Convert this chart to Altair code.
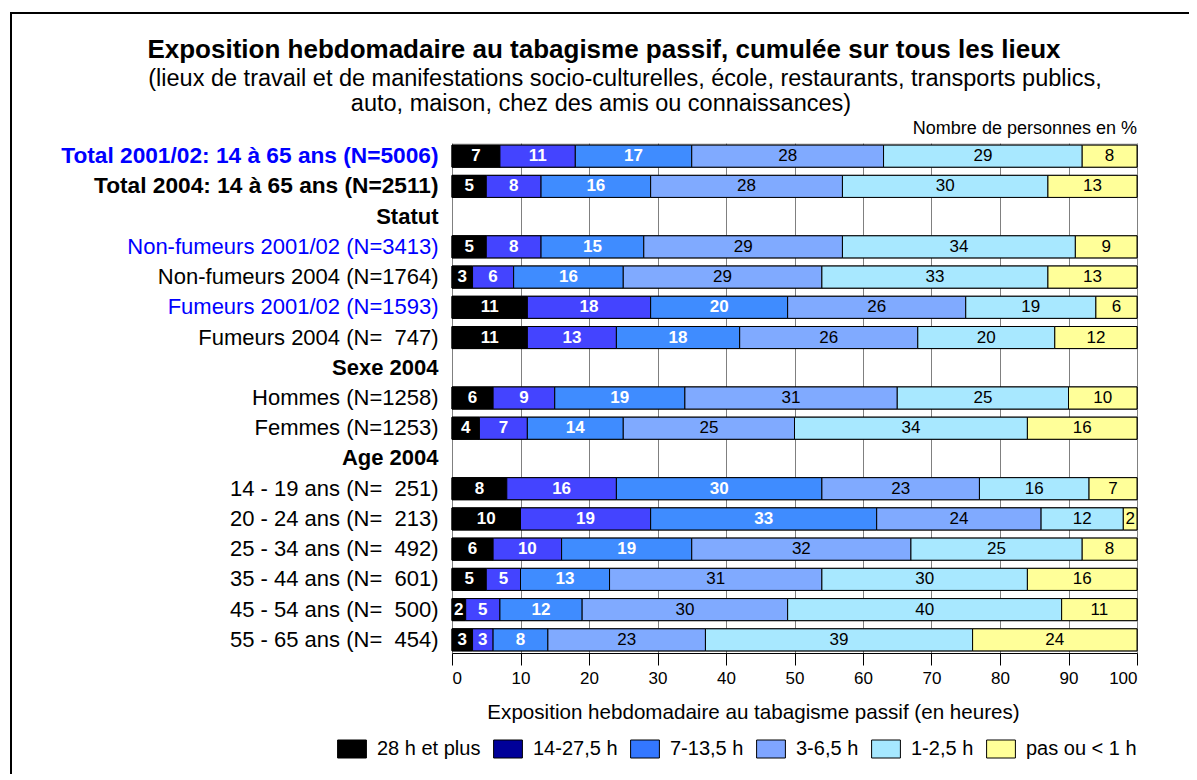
import altair as alt
import pandas as pd

rows = [
    "Total 2001/02: 14 à 65 ans (N=5006)",
    "Total 2004: 14 à 65 ans (N=2511)",
    "Statut",
    "Non-fumeurs 2001/02 (N=3413)",
    "Non-fumeurs 2004 (N=1764)",
    "Fumeurs 2001/02 (N=1593)",
    "Fumeurs 2004 (N=\u00a0\u00a0747)",
    "Sexe 2004",
    "Hommes (N=1258)",
    "Femmes (N=1253)",
    "Age 2004",
    "14 - 19 ans (N=\u00a0\u00a0251)",
    "20 - 24 ans (N=\u00a0\u00a0213)",
    "25 - 34 ans (N=\u00a0\u00a0492)",
    "35 - 44 ans (N=\u00a0\u00a0601)",
    "45 - 54 ans (N=\u00a0\u00a0500)",
    "55 - 65 ans (N=\u00a0\u00a0454)",
]

categories = ["28 h et plus", "14-27,5 h", "7-13,5 h", "3-6,5 h", "1-2,5 h", "pas ou < 1 h"]

v_total_0102 = [7, 11, 17, 28, 29, 8]
v_total_2004 = [5, 8, 16, 28, 30, 13]
v_nf_0102 = [5, 8, 15, 29, 34, 9]
v_nf_2004 = [3, 6, 16, 29, 33, 13]
v_f_0102 = [11, 18, 20, 26, 19, 6]
v_f_2004 = [11, 13, 18, 26, 20, 12]
v_hommes = [6, 9, 19, 31, 25, 10]
v_femmes = [4, 7, 14, 25, 34, 16]
v_14_19 = [8, 16, 30, 23, 16, 7]
v_20_24 = [10, 19, 33, 24, 12, 2]
v_25_34 = [6, 10, 19, 32, 25, 8]
v_35_44 = [5, 5, 13, 31, 30, 16]
v_45_54 = [2, 5, 12, 30, 40, 11]
v_55_65 = [3, 3, 8, 23, 39, 24]

series = {
    rows[0]: v_total_0102,
    rows[1]: v_total_2004,
    rows[3]: v_nf_0102,
    rows[4]: v_nf_2004,
    rows[5]: v_f_0102,
    rows[6]: v_f_2004,
    rows[8]: v_hommes,
    rows[9]: v_femmes,
    rows[11]: v_14_19,
    rows[12]: v_20_24,
    rows[13]: v_25_34,
    rows[14]: v_35_44,
    rows[15]: v_45_54,
    rows[16]: v_55_65,
}

title_lines = [
    "Exposition hebdomadaire au tabagisme passif, cumulée sur tous les lieux",
    "(lieux de travail et de manifestations socio-culturelles, école, restaurants, transports publics,",
    "auto, maison, chez des amis ou connaissances)",
]

bar_colors = ["#000000", "#4444FF", "#3F8CFF", "#80AAFF", "#A8E8FF", "#FFFF99"]
legend_colors = ["#000000", "#000099", "#3377FF", "#7FA5FF", "#A6E8FF", "#FFFF99"]

records = []
for r, vals in series.items():
    for i, (c, v) in enumerate(zip(categories, vals)):
        records.append({"row": r, "cat": c, "order": i, "value": v})
df = pd.DataFrame(records)

FONT = "Liberation Sans"
W, H = 685, 510

base = alt.Chart(df).transform_stack(
    stack="value", groupby=["row"], as_=["x0", "x1"],
    sort=[alt.SortField("order", order="ascending")]
).transform_calculate(mid="(datum.x0 + datum.x1) / 2")

y_enc = alt.Y(
    "row:N",
    scale=alt.Scale(domain=rows, paddingInner=0.27, paddingOuter=0.07),
    axis=alt.Axis(
        title=None, ticks=False, domain=False, labelPadding=14,
        labelFontSize={"condition": {"test": "indexof(datum.value, 'Total') == 0", "value": 22.7}, "value": 22},
        labelFont=FONT, labelLimit=500,
        labelColor={"condition": {"test": "indexof(datum.value, '2001/02') >= 0", "value": "#0000FF"}, "value": "#000000"},
        labelFontWeight={"condition": {"test": "indexof(datum.value, 'Total') == 0 || datum.value == 'Statut' || datum.value == 'Sexe 2004' || datum.value == 'Age 2004'", "value": "bold"}, "value": "normal"},
    ),
)

x_enc = alt.X(
    "x0:Q",
    scale=alt.Scale(domain=[0, 100], nice=False),
    axis=alt.Axis(
        values=list(range(0, 101, 10)), title="Exposition hebdomadaire au tabagisme passif (en heures)",
        titleFontSize=20.6, titleFont=FONT, titleFontWeight="normal", titlePadding=16,
        titleX=301, titleAlign="center", titleAnchor="start",
        labelFontSize=17, labelFont=FONT, labelPadding=5, tickSize=12,
        tickColor="#000000", domainColor="#000000", labelColor="#000000", titleColor="#000000",
        grid=True, gridColor="#808080", gridWidth=1,
    ),
)

legend_bars = base.mark_bar(stroke="#000000", strokeWidth=1).encode(
    x=x_enc, x2="x1:Q", y=y_enc,
    color=alt.Color(
        "cat:N",
        scale=alt.Scale(domain=categories, range=legend_colors),
        legend=alt.Legend(
            title=None, orient="none", legendX=-110, legendY=596, direction="horizontal",
            symbolType="M-1.6,-1L1.6,-1L1.6,1L-1.6,1Z", symbolSize=324,
            symbolStrokeColor="#000000", symbolStrokeWidth=1, symbolOpacity=1,
            labelFontSize=20, labelFont=FONT, labelOffset=15, columnPadding=10,
            padding=0, labelColor="#000000", labelLimit=300,
            labelExpr="datum.label == '3-6,5 h' ? '\u00a03-6,5 h' : datum.label",
        ),
        sort=categories,
    ),
)

bars = base.mark_bar(stroke="#000000", strokeWidth=1, opacity=1).encode(
    x=x_enc, x2="x1:Q", y=y_enc,
    color=alt.Color("cat:N", scale=alt.Scale(domain=categories, range=bar_colors), legend=None),
)

txt_white = base.transform_filter("datum.order < 3").mark_text(
    color="#FFFFFF", fontWeight="bold", fontSize=17, font=FONT
).encode(x="mid:Q", y=y_enc, text="value:Q")

txt_black = base.transform_filter("datum.order >= 3").mark_text(
    color="#000000", fontSize=17, font=FONT
).encode(x="mid:Q", y=y_enc, text="value:Q")

one = pd.DataFrame({"t": ["Nombre de personnes en %"]})
unit_label = alt.Chart(one).mark_text(
    align="right", baseline="bottom", fontSize=18, font=FONT, color="#000000"
).encode(x=alt.value(W), y=alt.value(-5), text="t:N")

t0 = pd.DataFrame({"t": [title_lines[0]]})
t1 = pd.DataFrame({"t": [title_lines[1]]})
t2 = pd.DataFrame({"t": [title_lines[2]]})
title_main = alt.Chart(t0).mark_text(
    align="center", baseline="middle", fontSize=26, fontWeight="bold", font=FONT, color="#000000"
).encode(x=alt.value(152), y=alt.value(-93), text="t:N")
sub1 = alt.Chart(t1).mark_text(
    align="center", baseline="middle", fontSize=23.5, font=FONT, color="#000000"
).encode(x=alt.value(173), y=alt.value(-64), text="t:N")
sub2 = alt.Chart(t2).mark_text(
    align="center", baseline="middle", fontSize=23.5, font=FONT, color="#000000"
).encode(x=alt.value(149), y=alt.value(-39), text="t:N")

frame = alt.Chart(one).mark_rect(
    fill=None, stroke="#000000", strokeWidth=2
).encode(x=alt.value(-441), x2=alt.value(W + 200), y=alt.value(-130), y2=alt.value(H + 300))

chart = alt.layer(
    frame, legend_bars, bars, txt_white, txt_black, unit_label, title_main, sub1, sub2
).resolve_scale(
    color="independent"
).properties(
    width=W, height=H,
    autosize=alt.AutoSizeParams(type="none"),
    padding={"left": 444, "top": 135, "right": 52, "bottom": 121},
).configure_view(stroke="#000000", strokeWidth=2).configure(background="#FFFFFF")

chart.save("out.html", embed_options={"renderer": "svg", "actions": False})
